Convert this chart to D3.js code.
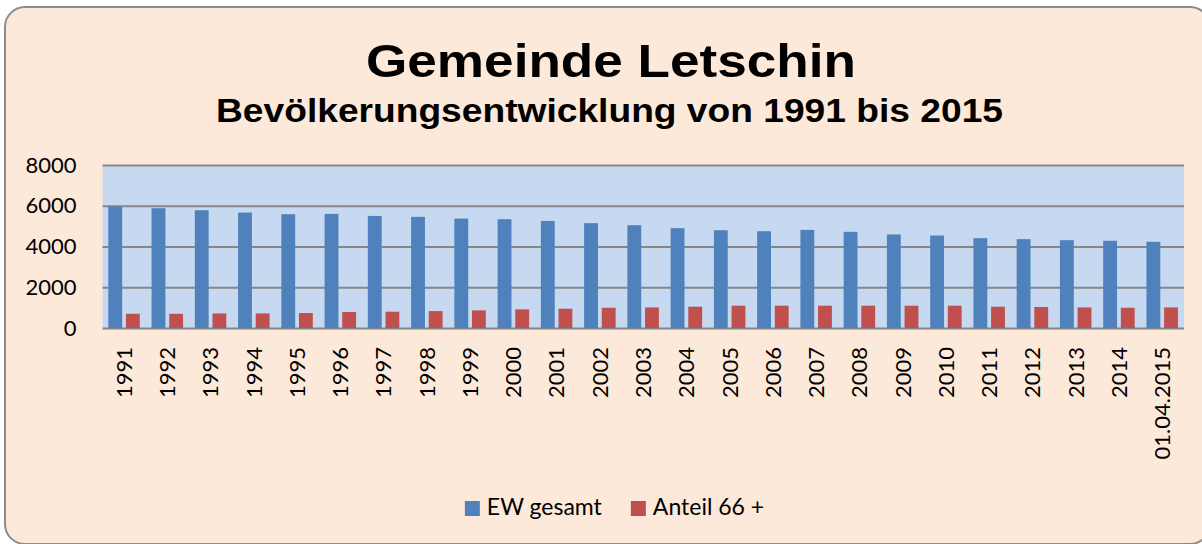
<!DOCTYPE html>
<html>
<head>
<meta charset="utf-8">
<script src="https://cdn.jsdelivr.net/npm/d3@7"></script>
<style>
  html, body { margin: 0; padding: 0; background: #ffffff; }
  svg { display: block; }
</style>
</head>
<body>
<div id="chart"></div>
<script>
// Data
var years = ["1991", "1992", "1993", "1994", "1995", "1996", "1997", "1998", "1999", "2000",
             "2001", "2002", "2003", "2004", "2005", "2006", "2007", "2008", "2009", "2010",
             "2011", "2012", "2013", "2014", "01.04.2015"];
var ewGesamt = [5960, 5880, 5780, 5665, 5585, 5600, 5500, 5455, 5370, 5340,
                5255, 5145, 5045, 4900, 4800, 4750, 4815, 4720, 4590, 4540,
                4410, 4360, 4310, 4280, 4230];
var anteil66 = [700, 700, 715, 715, 735, 785, 800, 830, 865, 915,
                945, 995, 1010, 1045, 1095, 1095, 1095, 1095, 1095, 1095,
                1045, 1030, 1010, 995, 1010];
var yTicks = [0, 2000, 4000, 6000, 8000];
var seriesNames = ["EW gesamt", "Anteil 66 +"];
var seriesColors = ["#4F81BD", "#C0504D"];

var width = 1202, height = 544;

var svg = d3.select("#chart").append("svg")
    .attr("width", width)
    .attr("height", height);

// Chart background with rounded border
svg.append("rect")
    .attr("x", 5).attr("y", 7)
    .attr("width", 1205).attr("height", 537)
    .attr("rx", 20).attr("ry", 20)
    .attr("fill", "#FDE9D9")
    .attr("stroke", "#8C8C8C")
    .attr("stroke-width", 2);

// Titles
svg.append("text")
    .attr("x", 611).attr("y", 77)
    .attr("text-anchor", "middle")
    .attr("font-family", "'Liberation Sans', Arial, sans-serif")
    .attr("font-weight", "bold")
    .attr("font-size", 47)
    .attr("textLength", 490)
    .attr("lengthAdjust", "spacingAndGlyphs")
    .text("Gemeinde Letschin");

svg.append("text")
    .attr("x", 609.5).attr("y", 121.5)
    .attr("text-anchor", "middle")
    .attr("font-family", "'Liberation Sans', Arial, sans-serif")
    .attr("font-weight", "bold")
    .attr("font-size", 33)
    .attr("textLength", 787)
    .attr("lengthAdjust", "spacingAndGlyphs")
    .text("Bevölkerungsentwicklung von 1991 bis 2015");

// Plot area
var plot = { left: 102.6, right: 1184, top: 165, bottom: 328 };

var x = d3.scaleBand()
    .domain(years)
    .range([plot.left, plot.right])
    .padding(0);

var y = d3.scaleLinear()
    .domain([0, 8000])
    .range([plot.bottom, plot.top]);

svg.append("rect")
    .attr("x", plot.left).attr("y", plot.top)
    .attr("width", plot.right - plot.left)
    .attr("height", plot.bottom - plot.top)
    .attr("fill", "#C6D9F1");

// Gridlines + y labels
var yAxis = svg.append("g")
    .attr("transform", "translate(" + plot.left + ",0)")
    .call(d3.axisLeft(y)
        .tickValues(yTicks)
        .tickFormat(d3.format("d"))
        .tickSize(-(plot.right - plot.left))
        .tickPadding(26));
yAxis.select(".domain").remove();
yAxis.selectAll(".tick line")
    .attr("stroke", "#878787")
    .attr("stroke-width", 2);
yAxis.selectAll(".tick text")
    .attr("font-family", "Lato, 'Open Sans', sans-serif")
    .attr("font-size", 22)
    .attr("fill", "#000");

// Bars
var bw = x.bandwidth();
svg.append("g").selectAll("rect")
    .data(ewGesamt)
    .enter().append("rect")
    .attr("x", function(d, i) { return x(years[i]) + bw * 0.132; })
    .attr("y", function(d) { return y(d); })
    .attr("width", bw * 0.32)
    .attr("height", function(d) { return y(0) - y(d); })
    .attr("fill", seriesColors[0]);

svg.append("g").selectAll("rect")
    .data(anteil66)
    .enter().append("rect")
    .attr("x", function(d, i) { return x(years[i]) + bw * 0.54; })
    .attr("y", function(d) { return y(d); })
    .attr("width", bw * 0.32)
    .attr("height", function(d) { return y(0) - y(d); })
    .attr("fill", seriesColors[1]);

// x axis labels (rotated)
var xAxis = svg.append("g")
    .attr("transform", "translate(0," + plot.bottom + ")")
    .call(d3.axisBottom(x).tickSize(0).tickPadding(0));
xAxis.select(".domain").remove();
xAxis.selectAll(".tick text")
    .attr("font-family", "Lato, 'Open Sans', sans-serif")
    .attr("font-size", 22)
    .attr("fill", "#000")
    .attr("text-anchor", "end")
    .attr("dy", "0.35em")
    .attr("transform", "translate(0,19) rotate(-90)")
    .attr("x", 0).attr("y", 0);

// Legend
var legend = svg.append("g");
var lx = 0;
seriesNames.forEach(function(name, i) {
    var item = legend.append("g").attr("transform", "translate(" + lx + ",0)");
    item.append("rect")
        .attr("x", 0).attr("y", 501)
        .attr("width", 15).attr("height", 15)
        .attr("fill", seriesColors[i]);
    var t = item.append("text")
        .attr("x", 22).attr("y", 515)
        .attr("font-family", "Lato, 'Open Sans', sans-serif")
        .attr("font-size", 23)
        .attr("fill", "#000")
        .text(name);
    lx += 22 + t.node().getComputedTextLength() + 29;
});
var legW = legend.node().getBBox().width;
legend.attr("transform", "translate(" + (614.5 - legW / 2) + ",0)");
</script>
</body>
</html>
